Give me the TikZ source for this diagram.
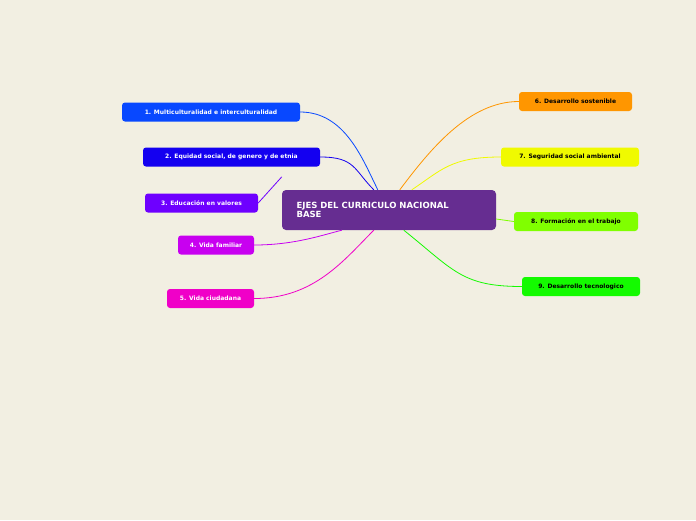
\documentclass[tikz,border=0pt]{standalone}
\usepackage{fontspec}
\setmainfont{DejaVu Sans}
\begin{document}
\begin{tikzpicture}[x=1pt,y=-1pt,
  topic/.style={rounded corners=3pt,font=\bfseries\fontsize{6}{7}\selectfont,inner sep=0pt,minimum height=19pt},
  lnk/.style={line width=0.8pt}]
\fill[fill={rgb,255:red,242;green,239;blue,226}] (0,0) rectangle (696,520);
\useasboundingbox (0,0) rectangle (696,520);
\node[fill={rgb,255:red,102;green,45;blue,145},rounded corners=4pt,minimum width=214pt,minimum height=40pt,inner sep=0pt] (c) at (389,210) {};
\node[anchor=west,text=white,font=\bfseries\fontsize{8.5}{9.5}\selectfont,align=left] (ct) at (293,210) {EJES DEL CURRICULO NACIONAL\\BASE};
\definecolor{c1}{RGB}{8,72,255}\definecolor{c2}{RGB}{20,0,240}\definecolor{c3}{RGB}{110,0,255}
\definecolor{c4}{RGB}{200,0,240}\definecolor{c5}{RGB}{240,0,200}\definecolor{c6}{RGB}{255,150,0}
\definecolor{c7}{RGB}{240,250,0}\definecolor{c8}{RGB}{128,255,0}\definecolor{c9}{RGB}{20,250,0}
\node[topic,fill=c1,text=white,minimum width=178pt] (n1) at (211,112) {1. Multiculturalidad e interculturalidad};
\node[topic,fill=c2,text=white,minimum width=177pt] (n2) at (231.5,157) {2. Equidad social, de genero y de etnia};
\node[topic,fill=c3,text=white,minimum width=113pt] (n3) at (201.5,203) {3. Educación en valores};
\node[topic,fill=c4,text=white,minimum width=76pt] (n4) at (216,245) {4. Vida familiar};
\node[topic,fill=c5,text=white,minimum width=87pt] (n5) at (210.5,298.5) {5. Vida ciudadana};
\node[topic,fill=c6,minimum width=113pt] (n6) at (575.5,101.5) {6. Desarrollo sostenible};
\node[topic,fill=c7,minimum width=138pt] (n7) at (570,157) {7. Seguridad social ambiental};
\node[topic,fill=c8,minimum width=124pt] (n8) at (576,221.5) {8. Formación en el trabajo};
\node[topic,fill=c9,minimum width=118pt] (n9) at (581,286.5) {9. Desarrollo tecnologico};
\begin{scope}[on background layer/.style={}]
\draw[lnk,c1] (n1.east) .. controls +(45,0) and +(-15,-30) .. ([xshift=96pt]c.north west);
\draw[lnk,c2] (n2.east) .. controls +(35,0) and +(-20,-20) .. ([xshift=92pt]c.north west);
\draw[lnk,c3] (n3.east) -- ([yshift=13pt]c.north west);
\draw[lnk,c4] (n4.east) .. controls +(40,0) and +(-20,5) .. ([xshift=60pt]c.south west);
\draw[lnk,c5] (n5.east) .. controls +(60,0) and +(-30,30) .. ([xshift=92pt]c.south west);
\draw[lnk,c6] (n6.west) .. controls +(-50,0) and +(30,-40) .. ([xshift=118pt]c.north west);
\draw[lnk,c7] (n7.west) .. controls +(-50,0) and +(30,-20) .. ([xshift=130pt]c.north west);
\draw[lnk,c8] (n8.west) -- ([yshift=-9pt]c.east);
\draw[lnk,c9] (n9.west) .. controls +(-60,0) and +(50,40) .. ([xshift=122pt]c.south west);
\end{scope}
\end{tikzpicture}
\end{document}
